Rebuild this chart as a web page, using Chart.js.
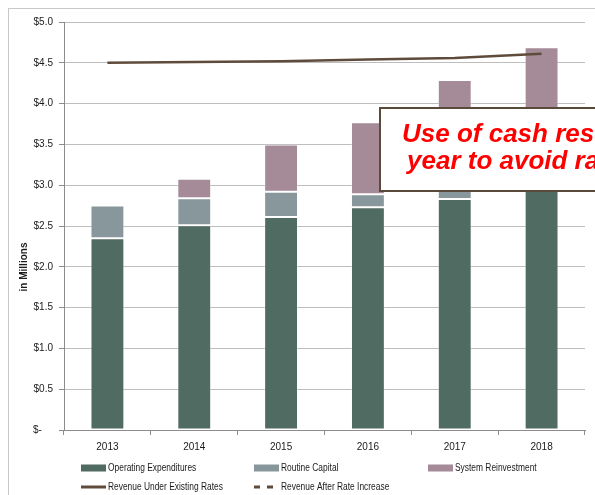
<!DOCTYPE html>
<html>
<head>
<meta charset="utf-8">
<script src="https://cdn.jsdelivr.net/npm/chart.js@4.4.1/dist/chart.umd.min.js"></script>
<style>
  html, body { margin: 0; padding: 0; background: #ffffff; }
  #wrap { width: 595px; height: 495px; position: relative; }
  canvas { display: block; }
</style>
</head>
<body>
<div id="wrap"><canvas id="chart" width="595" height="495"></canvas></div>
<script>
// Annual cost components and revenue (in millions of dollars)
const years = ['2013', '2014', '2015', '2016', '2017', '2018'];
const operatingExpenditures = [2.35, 2.51, 2.61, 2.73, 2.83, 2.95];
const routineCapital        = [0.40, 0.33, 0.31, 0.16, 0.14, 0.15];
const systemReinvestment    = [0.00, 0.24, 0.58, 0.88, 1.32, 1.59];
const revenueExistingRates  = [4.50, 4.51, 4.52, 4.54, 4.56, 4.61];
const revenueAfterIncrease  = [4.50, 4.51, 4.52, 4.54, 4.56, 4.61];

const seriesNames = [
  'Operating Expenditures', 'Routine Capital', 'System Reinvestment',
  'Revenue Under Existing Rates', 'Revenue After Rate Increase'
];
const yAxisTitle = 'in Millions';
const calloutLines = ['Use of cash reserves each', 'year to avoid rate increase'];

const FONT = "'Liberation Sans', Arial, sans-serif";
const COLORS = {
  opex: '#506B62',
  routine: '#87979C',
  reinvest: '#A58A97',
  revenue: '#5F4B3B'
};

function moneyTick(v) {
  return v === 0 ? '$-    ' : '$' + v.toFixed(1);
}

// Frame, axis title, custom two-row legend and the callout box
const decorations = {
  id: 'decorations',
  beforeDraw(chart) {
    const ctx = chart.ctx;
    ctx.save();
    ctx.fillStyle = '#ffffff';
    ctx.fillRect(0, 0, chart.width, chart.height);
    ctx.strokeStyle = '#C8C8C8';
    ctx.lineWidth = 1;
    ctx.strokeRect(8.5, 8.5, 800, 800);
    ctx.restore();
  },
  afterDraw(chart) {
    const ctx = chart.ctx;
    ctx.save();

    // y-axis title
    ctx.translate(24, 267);
    ctx.rotate(-Math.PI / 2);
    ctx.fillStyle = '#1a1a1a';
    ctx.font = "bold 10px 'Liberation Sans', Arial, sans-serif";
    ctx.textAlign = 'center';
    ctx.textBaseline = 'middle';
    ctx.fillText(yAxisTitle, 0, 0);
    ctx.setTransform(1, 0, 0, 1, 0, 0);

    // legend (text drawn slightly condensed)
    const cols = [81, 254, 428];
    const rows = [468, 487];
    const ds = chart.data.datasets;
    ctx.font = '10px ' + FONT;
    ctx.textAlign = 'left';
    ctx.textBaseline = 'middle';
    ds.forEach((d, i) => {
      const col = i < 3 ? cols[i] : cols[i - 3];
      const row = i < 3 ? rows[0] : rows[1];
      if (d.type === 'line') {
        ctx.strokeStyle = d.borderColor;
        ctx.lineWidth = 3;
        ctx.setLineDash(d.borderDash && d.borderDash.length ? [6, 7] : []);
        ctx.beginPath();
        ctx.moveTo(col, row);
        ctx.lineTo(col + 25, row);
        ctx.stroke();
        ctx.setLineDash([]);
      } else {
        ctx.fillStyle = d.backgroundColor;
        ctx.fillRect(col, row - 3.5, 25, 7);
      }
      ctx.save();
      ctx.translate(col + 27, row + 0.5);
      ctx.scale(0.84, 1);
      ctx.fillStyle = '#1a1a1a';
      ctx.fillText(d.label, 0, 0);
      ctx.restore();
    });

    // callout box
    ctx.fillStyle = '#ffffff';
    ctx.fillRect(380, 108, 400, 83);
    ctx.strokeStyle = '#5A4A3C';
    ctx.lineWidth = 2;
    ctx.strokeRect(380, 108, 400, 83);
    ctx.fillStyle = '#FF0000';
    ctx.font = "italic bold 26px 'Liberation Sans', Arial, sans-serif";
    ctx.textBaseline = 'alphabetic';
    ctx.fillText(calloutLines[0], 402, 142);
    ctx.fillText(calloutLines[1], 407, 169);
    ctx.restore();
  }
};

const barCommon = {
  type: 'bar',
  borderColor: 'rgba(255,255,255,0.35)',
  borderWidth: 1,
  borderSkipped: false,
  barPercentage: 0.39,
  categoryPercentage: 1.0,
  stack: 'costs',
  order: 2
};

new Chart(document.getElementById('chart'), {
  data: {
    labels: years,
    datasets: [
      Object.assign({}, barCommon, { label: seriesNames[0], data: operatingExpenditures, backgroundColor: COLORS.opex }),
      Object.assign({}, barCommon, { label: seriesNames[1], data: routineCapital, backgroundColor: COLORS.routine }),
      Object.assign({}, barCommon, { label: seriesNames[2], data: systemReinvestment, backgroundColor: COLORS.reinvest }),
      {
        type: 'line', label: seriesNames[3], data: revenueExistingRates,
        borderColor: COLORS.revenue, borderWidth: 2.5, pointRadius: 0,
        tension: 0, order: 0, borderDash: []
      },
      {
        type: 'line', label: seriesNames[4], data: revenueAfterIncrease,
        borderColor: COLORS.revenue, borderWidth: 2.5, pointRadius: 0,
        tension: 0, order: 1, borderDash: [6, 4]
      }
    ]
  },
  options: {
    responsive: false,
    animation: false,
    events: [],
    layout: { padding: { left: 0, right: 10, top: 22, bottom: 0 } },
    plugins: {
      legend: { display: false },
      tooltip: { enabled: false },
      title: { display: false }
    },
    scales: {
      x: {
        stacked: true,
        offset: true,
        grid: {
          display: true,
          drawOnChartArea: false,
          drawTicks: true,
          tickLength: 5,
          tickColor: '#8C8C8C',
          offset: true
        },
        border: { display: true, color: '#8C8C8C', width: 1 },
        ticks: {
          color: '#1a1a1a',
          font: { family: FONT, size: 10 },
          padding: 6,
          maxRotation: 0
        },
        afterFit(scale) { scale.height = 65; }
      },
      y: {
        stacked: true,
        min: 0,
        max: 5,
        grid: {
          color: '#BDBDBD',
          lineWidth: 1,
          drawTicks: true,
          tickLength: 5,
          tickColor: '#8C8C8C'
        },
        border: { display: true, color: '#8C8C8C', width: 1 },
        ticks: {
          stepSize: 0.5,
          color: '#1a1a1a',
          font: { family: FONT, size: 10 },
          padding: 6,
          callback: (v) => moneyTick(v)
        },
        afterFit(scale) { scale.width = 64; }
      }
    }
  },
  plugins: [decorations]
});
</script>
</body>
</html>
